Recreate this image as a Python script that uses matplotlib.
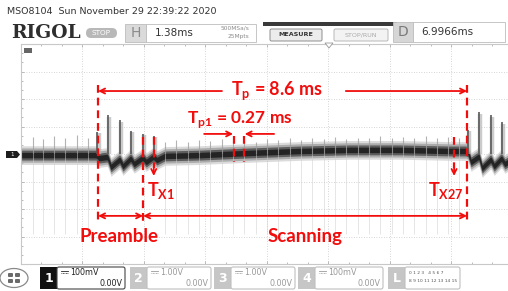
import matplotlib
matplotlib.use("Agg")
import matplotlib.pyplot as plt
from matplotlib.patches import Rectangle, FancyBboxPatch, Ellipse, Polygon
from matplotlib.ticker import MultipleLocator

# ========== Settings ==========
RED = "#f20d0d"
TIME_DIV = 1.38      # ms per division
VOLT_DIV = 100       # mV per division
plt.rcParams["mathtext.fontset"] = "custom"
plt.rcParams["mathtext.rm"] = "Lato:bold"
plt.rcParams["mathtext.bf"] = "Lato:bold"

# ========== Trace data (ms, mV) ==========
trace_t = [0, 1.68, 1.71, 1.75, 1.93, 1.95, 2.02, 2.20, 2.22, 2.29, 2.45, 2.47, 2.54,
           2.72, 2.74, 2.81, 2.96, 2.98, 3.05, 3.23, 4.02, 5.14, 6.26, 7.38, 8.50,
           9.63, 9.99, 10.03, 10.10, 10.26, 10.28, 10.35, 10.53, 10.55, 10.62, 10.77,
           10.79, 10.86, 10.93]
trace_mv = [-4, -4, -7, -15, -11, -15, -47, -22, -22, -44, -18, -18, -36,
            -15, -15, -29, -11, -11, -22, -7, -4, 4, 11, 15, 15,
            11, 11, 7, -29, -11, -11, -51, -22, -22, -44, -18,
            -18, -36, -29]

# preamble pulses (big spikes)
pulse_t = [1.71, 1.95, 2.22, 2.47, 2.74, 2.98, 10.03, 10.28, 10.55, 10.79]
pulse_top = [80, 142, 124, 84, 73, 65, 87, 153, 142, 116]

# small scanning spikes
spike_t = [0.27, 0.49, 0.74, 0.99, 1.26, 1.50, 3.23, 3.48, 3.75, 4.00, 4.24, 4.51,
           4.76, 5.00, 5.27, 5.52, 5.77, 6.04, 6.28, 6.53, 6.80, 7.05, 7.29, 7.56,
           7.81, 8.06, 8.33, 8.57, 8.82, 9.09, 9.34, 9.58, 9.83]
spike_top = [62, 55, 66, 60, 68, 58, 45, 50, 42, 52, 46, 55, 48, 50, 44, 56, 50,
             58, 52, 60, 55, 62, 56, 60, 58, 64, 58, 62, 60, 64, 58, 62, 60]

# annotation positions (ms, mV)
tp_left, tp_right = 1.73, 10.01
tx1_t, tx27_t = 2.98, 9.72
pre_end = 2.74
tp1_a, tp1_b = 4.78, 5.00
y_tp, y_tp1, y_span = 229, 73, -225

fig = plt.figure(figsize=(5.08, 2.91), dpi=100)
fig.patch.set_facecolor("white")

# ========== Scope grid ==========
ax = fig.add_axes([21 / 508, 27 / 291, 487 / 508, 220 / 291])
ax.set_axisbelow(True)
ax.set_xlim(0, 10.93)
ax.set_ylim(-4 * VOLT_DIV, 4 * VOLT_DIV)
ax.xaxis.set_major_locator(MultipleLocator(TIME_DIV))
ax.yaxis.set_major_locator(MultipleLocator(VOLT_DIV))
ax.xaxis.set_minor_locator(MultipleLocator(TIME_DIV / 3))
ax.yaxis.set_minor_locator(MultipleLocator(VOLT_DIV / 3))
ax.grid(True, which="major", color="#c8c8c8", lw=0.6, ls=(0, (1, 2)))
ax.tick_params(which="both", direction="in", labelbottom=False, labelleft=False,
               top=True, right=False, color="#b0b0b0", length=2.5, width=0.6)
ax.tick_params(which="minor", length=1.5)
for s in ax.spines.values():
    s.set_color("#c8c8c8")
    s.set_linewidth(0.8)
ax.spines["right"].set_visible(False)

# faint downward ringing and small spikes
for t, top in zip(spike_t, spike_top):
    ax.vlines(t, -290, 0, color="#cfcfcf", lw=0.6, alpha=0.6)
    ax.vlines(t, 0, top, color="#a0a0a0", lw=0.8, alpha=0.8)

# band, drawn in soft layers
for spread, col, a in [(34, "#c4c4c4", 0.6), (26, "#8c8c8c", 0.6),
                       (18, "#4a4a4a", 0.8), (10, "#1e1e1e", 0.9)]:
    ax.fill_between(trace_t, [v - spread for v in trace_mv], [v + spread for v in trace_mv],
                    color=col, alpha=a, lw=0)

# preamble pulses
for t, top in zip(pulse_t, pulse_top):
    ax.vlines(t + 0.03, 0, top * 0.95, color="#b5b5b5", lw=3.2, alpha=0.7)
    ax.vlines(t, 0, top, color="#555555", lw=1.3, alpha=0.9)

# ========== Red annotations ==========
dash = dict(color=RED, lw=1.6, ls=(0, (3.5, 2.2)))
ax.plot([tp_left, tp_left], [y_tp + 22, y_span - 22], **dash)
ax.plot([tp_right, tp_right], [y_tp + 22, y_span - 25], **dash)
ax.plot([pre_end, pre_end], [62, y_span - 22], **dash)
ax.plot([tx1_t, tx1_t], [62, -50], **dash)
ax.plot([tx27_t, tx27_t], [62, -50], **dash)
ax.plot([tp1_a, tp1_a], [65, -29], **dash)
ax.plot([tp1_b, tp1_b], [65, -29], **dash)

arr = dict(arrowstyle="->", color=RED, lw=1.3, mutation_scale=9, shrinkA=0, shrinkB=0)
dbl = dict(arrowstyle="<->", color=RED, lw=1.3, mutation_scale=9, shrinkA=0, shrinkB=0)
ax.annotate("", xy=(tp_left, y_tp), xytext=(4.51, y_tp), arrowprops=arr)
ax.annotate("", xy=(tp_right, y_tp), xytext=(7.29, y_tp), arrowprops=arr)
ax.annotate("", xy=(tp1_a - 0.02, y_tp1), xytext=(4.11, y_tp1), arrowprops=arr)
ax.annotate("", xy=(tp1_b + 0.02, y_tp1), xytext=(5.68, y_tp1), arrowprops=arr)
ax.annotate("", xy=(tx1_t, -80), xytext=(tx1_t, -45), arrowprops=arr)
ax.annotate("", xy=(tx27_t, -80), xytext=(tx27_t, -45), arrowprops=arr)
ax.annotate("", xy=(tp_left, y_span), xytext=(pre_end, y_span), arrowprops=dbl)
ax.annotate("", xy=(pre_end, y_span), xytext=(tp_right, y_span), arrowprops=dbl)

tkw = dict(color=RED, fontweight="bold", family=["Lato", "DejaVu Sans"],
           ha="center", va="center")
ax.text(5.74, y_tp, r"T$_\mathrm{p}$ = 8.6 ms", fontsize=13, **tkw)
ax.text(4.91, 126, r"T$_\mathrm{p1}$ = 0.27 ms", fontsize=12.5, **tkw)
ax.text(3.14, -131, r"T$_\mathrm{X1}$", fontsize=13, **tkw)
ax.text(9.54, -131, r"T$_\mathrm{X27}$", fontsize=13, **tkw)
ax.text(2.20, -300, "Preamble", fontsize=13.5, **tkw)
ax.text(6.37, -300, "Scanning", fontsize=13.5, **tkw)

# ========== Screen chrome (pixel overlay) ==========
ov = fig.add_axes([0, 0, 1, 1], facecolor="none")
ov.set_xlim(0, 508)
ov.set_ylim(291, 0)
ov.axis("off")

ui = dict(family="DejaVu Sans", va="center")
ov.text(7, 12, "MSO8104  Sun November 29 22:39:22 2020", fontsize=6.8, color="#333333", **ui)
ov.text(11, 33, "RIGOL", fontsize=13.5, fontweight="bold", family="DejaVu Serif",
        color="#2e2e2e", va="center")
ov.add_patch(FancyBboxPatch((86, 28), 31, 10, boxstyle="round,pad=0,rounding_size=5",
                            fc="#b8b8b8", ec="none"))
ov.text(101.5, 33, "STOP", fontsize=5.2, color="white", ha="center", **ui)

ov.add_patch(Rectangle((125, 24), 21, 18, fc="#dadada", ec="#bdbdbd", lw=0.6))
ov.text(135.5, 33, "H", fontsize=10, color="#8a8a8a", ha="center", **ui)
ov.add_patch(Rectangle((146, 24), 110, 18, fc="white", ec="#bdbdbd", lw=0.6))
ov.text(155, 33, "1.38ms", fontsize=7.5, color="#333333", **ui)
ov.text(249, 28.5, "500MSa/s", fontsize=4.2, color="#8a8a8a", ha="right", **ui)
ov.text(249, 36.5, "25Mpts", fontsize=4.2, color="#8a8a8a", ha="right", **ui)

ov.add_patch(Rectangle((263, 22), 134, 3.5, fc="#3a3a3a", ec="none"))
ov.add_patch(FancyBboxPatch((270, 29), 52, 12, boxstyle="round,pad=0,rounding_size=1.5",
                            fc="#ececec", ec="#8f8f8f", lw=0.7))
ov.text(296, 35, "MEASURE", fontsize=4.6, fontweight="bold", color="#333333",
        ha="center", **ui)
ov.add_patch(FancyBboxPatch((334, 29), 54, 12, boxstyle="round,pad=0,rounding_size=1.5",
                            fc="#f3f3f3", ec="#b8b8b8", lw=0.7))
ov.text(361, 35, "STOP/RUN", fontsize=4.6, color="#ababab", ha="center", **ui)

ov.add_patch(Rectangle((393, 22), 20, 20, fc="#d6d6d6", ec="#bdbdbd", lw=0.6))
ov.text(403, 32, "D", fontsize=10, color="#7a7a7a", ha="center", **ui)
ov.add_patch(Rectangle((413, 22), 92, 20, fc="white", ec="#bdbdbd", lw=0.6))
ov.text(421, 32, "6.9966ms", fontsize=7.5, color="#333333", **ui)

# trigger position marker and channel markers
ov.add_patch(Polygon([(325, 43), (333, 43), (329, 48)], closed=True, fc="white",
                     ec="#999999", lw=0.6))
ov.add_patch(Polygon([(24, 48), (32, 48), (32, 53), (24, 53)], closed=True,
                     fc="#666666", ec="none"))
ov.add_patch(Polygon([(6, 151), (17, 151), (20, 154.5), (17, 158), (6, 158)], closed=True,
                     fc="#1e1e1e", ec="none"))
ov.text(12, 154.5, "1", fontsize=4, color="white", ha="center", **ui)

# ========== Bottom channel bar ==========
ov.add_patch(Ellipse((14, 278), 28, 19, fc="white", ec="#8a8a8a", lw=0.9))
for cx, cy in [(10.5, 275), (17.5, 275), (10.5, 281), (17.5, 281)]:
    ov.add_patch(FancyBboxPatch((cx - 2.5, cy - 2), 5, 4, boxstyle="round,pad=0,rounding_size=1",
                                fc="#6a6a6a", ec="none"))

channels = ["1", "2", "3", "4"]
ch_scale = ["100mV", "1.00V", "1.00V", "100mV"]
ch_x = [40, 130, 214, 298]
ch_w = [68, 64, 64, 68]
for i, (name, scale, x0, w) in enumerate(zip(channels, ch_scale, ch_x, ch_w)):
    active = i == 0
    ov.add_patch(Rectangle((x0, 267), 17, 22, fc="#111111" if active else "#c6c6c6", ec="none"))
    ov.text(x0 + 8.5, 278, name, fontsize=9, fontweight="bold", color="white",
            ha="center", **ui)
    ov.add_patch(FancyBboxPatch((x0 + 17, 267), w, 22, boxstyle="round,pad=0,rounding_size=2",
                                fc="white", ec="#444444" if active else "#c0c0c0", lw=0.8))
    col = "#222222" if active else "#9a9a9a"
    # DC coupling sign: solid bar over a dashed bar
    ov.plot([x0 + 21, x0 + 28], [271, 271], color=col, lw=0.6)
    ov.plot([x0 + 21, x0 + 28], [273, 273], color=col, lw=0.6, ls=(0, (1, 0.8)))
    ov.text(x0 + 30, 272.5, scale, fontsize=5.8, color=col, **ui)
    ov.text(x0 + 14 + w, 284, "0.00V", fontsize=5.8, color=col, ha="right", **ui)

ov.add_patch(Rectangle((388, 267), 17, 22, fc="#c6c6c6", ec="none"))
ov.text(396.5, 278, "L", fontsize=9, fontweight="bold", color="white", ha="center", **ui)
ov.add_patch(FancyBboxPatch((405, 267), 55, 22, boxstyle="round,pad=0,rounding_size=2",
                            fc="white", ec="#c0c0c0", lw=0.8))
ov.text(409, 273.5, "0 1 2 3   4 5 6 7", fontsize=3.2, color="#555555", **ui)
ov.text(409, 281.5, "8 9 10 11 12 13 14 15", fontsize=3.2, color="#555555", **ui)

fig.savefig("out.png", dpi=100, facecolor="white")
